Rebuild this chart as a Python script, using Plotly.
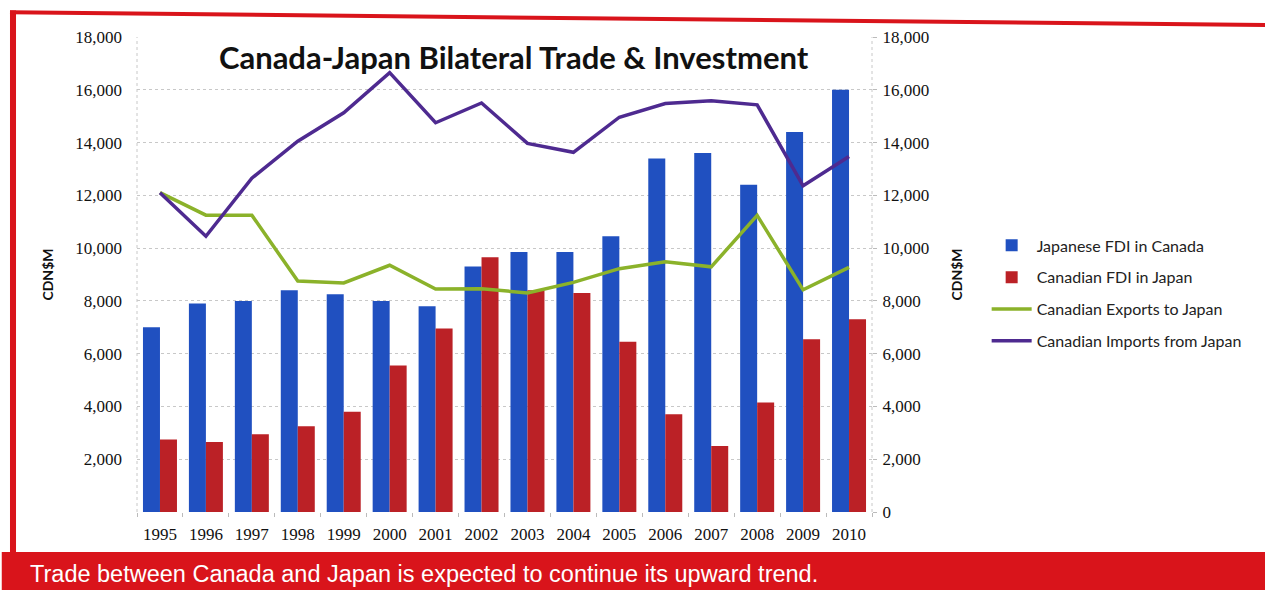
import plotly.graph_objects as go

years = ["1995", "1996", "1997", "1998", "1999", "2000", "2001", "2002",
         "2003", "2004", "2005", "2006", "2007", "2008", "2009", "2010"]
jp_fdi_in_canada = [7000, 7900, 8000, 8400, 8250, 8000, 7800, 9300,
                    9850, 9850, 10450, 13400, 13600, 12400, 14400, 16000]
ca_fdi_in_japan = [2750, 2650, 2950, 3250, 3800, 5550, 6950, 9650,
                   8400, 8300, 6450, 3700, 2500, 4150, 6550, 7300]
ca_exports_to_japan = [12100, 11250, 11250, 8750, 8680, 9350, 8450, 8460,
                       8300, 8700, 9220, 9480, 9290, 11240, 8420, 9270]
ca_imports_from_japan = [12100, 10450, 12650, 14050, 15130, 16650, 14750, 15500,
                         13970, 13630, 14960, 15480, 15580, 15430, 12360, 13470]

left_ticks = [2000, 4000, 6000, 8000, 10000, 12000, 14000, 16000, 18000]
right_ticks = [0, 2000, 4000, 6000, 8000, 10000, 12000, 14000, 16000, 18000]

BLUE = "#2050c0"
RED = "#bb2126"
GREEN = "#8bb22a"
PURPLE = "#4e2a90"
FRAME = "#d9141b"
serif = "Liberation Serif"
sans = "Lato"

fig = go.Figure()
fig.add_trace(go.Bar(x=years, y=jp_fdi_in_canada, name="Japanese FDI in Canada",
                     legendgroup="a", marker=dict(color=BLUE, line=dict(width=0))))
fig.add_trace(go.Bar(x=years, y=ca_fdi_in_japan, name="Canadian FDI in Japan",
                     legendgroup="b", marker=dict(color=RED, line=dict(width=0))))
fig.add_trace(go.Scatter(x=years, y=ca_exports_to_japan, name="Canadian Exports to Japan",
                         legendgroup="c", mode="lines", line=dict(color=GREEN, width=3.5),
                         yaxis="y2"))
fig.add_trace(go.Scatter(x=years, y=ca_imports_from_japan, name="Canadian Imports from Japan",
                         legendgroup="d", mode="lines", line=dict(color=PURPLE, width=3.5),
                         yaxis="y2"))

fig.update_layout(
    width=1265, height=598,
    margin=dict(l=137, r=393, t=37, b=86),
    paper_bgcolor="white", plot_bgcolor="white",
    barmode="group", bargap=0.26, bargroupgap=0.0,
    showlegend=True,
    legend=dict(x=1.156, y=0.597, xanchor="left", yanchor="top",
                font=dict(family=sans, size=16, color="#222"),
                tracegroupgap=8, itemwidth=40, bgcolor="rgba(0,0,0,0)",
                traceorder="grouped"),
    xaxis=dict(type="category", showgrid=False, showline=False,
               ticks="outside", tickson="boundaries", ticklen=4, tickcolor="#bbb",
               ticklabelstandoff=10,
               tickfont=dict(family=serif, size=17, color="#111")),
    yaxis=dict(range=[0, 18000], tickvals=left_ticks, tickformat=",",
               showgrid=True, gridcolor="#c8c8c8", griddash="dot", zeroline=False,
               tickfont=dict(family=serif, size=17, color="#111"),
               title=dict(text="<b>CDN$M</b>", font=dict(family=sans, size=14, color="#111"),
                          standoff=18),
               ticks="", ticklabelstandoff=14),
    yaxis2=dict(range=[0, 18000], tickvals=right_ticks, tickformat=",",
                overlaying="y", side="right", showgrid=False, zeroline=False,
                tickfont=dict(family=serif, size=17, color="#111"),
                title=dict(text="<b>CDN$M</b>", font=dict(family=sans, size=14, color="#111"),
                           standoff=24),
                ticks="outside", ticklen=4, tickcolor="#bbb", ticklabelstandoff=2),
    title=dict(text="<b>Canada-Japan Bilateral Trade &amp; Investment</b>",
               x=0.406, xanchor="center", y=0.903, yanchor="middle",
               font=dict(family=sans, size=31, color="#111")),
)

shapes = [
    # dotted vertical axis lines
    dict(type="line", xref="paper", yref="paper", x0=0, x1=0, y0=0, y1=1,
         line=dict(color="#c8c8c8", width=1, dash="dot")),
    dict(type="line", xref="paper", yref="paper", x0=1, x1=1, y0=0, y1=1,
         line=dict(color="#c8c8c8", width=1, dash="dot")),
    # red frame: left bar and top line
    dict(type="rect", xref="paper", yref="paper", x0=-0.1728, x1=-0.1646, y0=-0.09, y1=1.056,
         fillcolor=FRAME, line=dict(width=0), layer="above"),
    dict(type="line", xref="paper", yref="paper", x0=-0.1728, x1=1.535, y0=1.052, y1=1.025,
         line=dict(color=FRAME, width=4), layer="above"),
    # bottom banner
    dict(type="rect", xref="paper", yref="paper", x0=-0.184, x1=1.54, y0=-0.164, y1=-0.084,
         fillcolor=FRAME, line=dict(width=0), layer="above"),
]
fig.update_layout(shapes=shapes)

fig.add_annotation(text="Trade between Canada and Japan is expected to continue its upward trend.",
                   xref="paper", yref="paper", x=-0.148, y=-0.13, xanchor="left", yanchor="middle",
                   showarrow=False, font=dict(family="Liberation Sans", size=23.5, color="white"))

fig.write_html("out.html")
